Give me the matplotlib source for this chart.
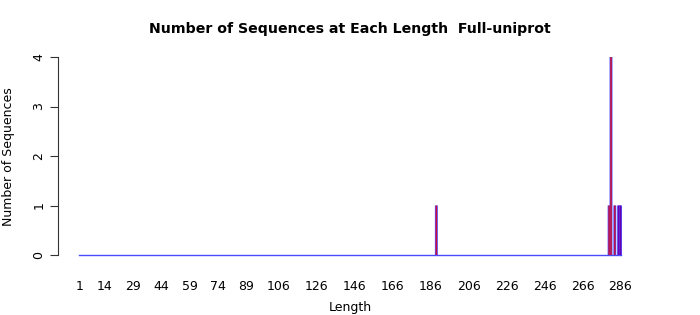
import matplotlib
matplotlib.use("Agg")
import matplotlib.pyplot as plt
import numpy as np

lengths = list(range(1, 287))
nonzero_lengths = [189, 280, 281, 283, 285, 286]
nonzero_counts = [1, 1, 4, 1, 1, 1]
nonzero_colors = ["#c8103c", "#c8103c", "#d0102c", "#c01040", "#6a00b0", "#6a00b0"]
tick_labels = [1, 14, 29, 44, 59, 74, 89, 106, 126, 146, 166, 186, 206, 226, 246, 266, 286]
y_ticks = [0, 1, 2, 3, 4]

counts = np.zeros(len(lengths))
colors = ["#c8103c"] * len(lengths)
for L, c, col in zip(nonzero_lengths, nonzero_counts, nonzero_colors):
    counts[lengths.index(L)] = c
    colors[lengths.index(L)] = col

W, H = 700, 315
fig = plt.figure(figsize=(7, 3.15), dpi=100)
ppu = (620 - 79) / 285.0
x_left_px, x_right_px = 58, 650
xmin = 1 + (x_left_px - 79.5) / ppu
xmax = 1 + (x_right_px - 79.5) / ppu
y_bot_px, y_top_px = 255, 57
ax = fig.add_axes([x_left_px / W, 1 - y_bot_px / H, (x_right_px - x_left_px) / W, (y_bot_px - y_top_px) / H])
ax.set_xlim(xmin, xmax)
ax.set_ylim(0, 4)

# border (blue) then fill on top
ax.bar(lengths, counts, width=1.55, color="#5050ff", edgecolor="none", zorder=2, snap=False)
ax.bar(lengths, counts, width=0.8, color=colors, edgecolor="none", zorder=3, snap=False)
ax.plot([lengths[0] - 0.45, lengths[-1] + 0.45], [0, 0], color="#4a4aff", lw=1.0, zorder=1, clip_on=False)

for s in ["top", "right", "bottom"]:
    ax.spines[s].set_visible(False)
ax.spines["left"].set_color("#333333")
ax.spines["left"].set_linewidth(0.8)
ax.set_yticks(y_ticks)
ax.set_yticklabels([str(v) for v in y_ticks], rotation=90, va="center", fontsize=9)
ax.tick_params(axis="y", length=6, width=0.8, pad=3, color="#333333")
ax.set_xticks(tick_labels)
ax.set_xticklabels([str(v) for v in tick_labels], fontsize=9)
ax.tick_params(axis="x", length=0, pad=18)

fig.text(350 / W, 1 - 29 / H, "Number of Sequences at Each Length  Full-uniprot",
         ha="center", va="center", fontsize=10.2, fontweight="bold")
fig.text(350 / W, 1 - 307 / H, "Length", ha="center", va="center", fontsize=9)
fig.text(9 / W, 1 - 157 / H, "Number of Sequences", ha="center", va="center", rotation=90, fontsize=9)

fig.savefig("out.png", dpi=100)
